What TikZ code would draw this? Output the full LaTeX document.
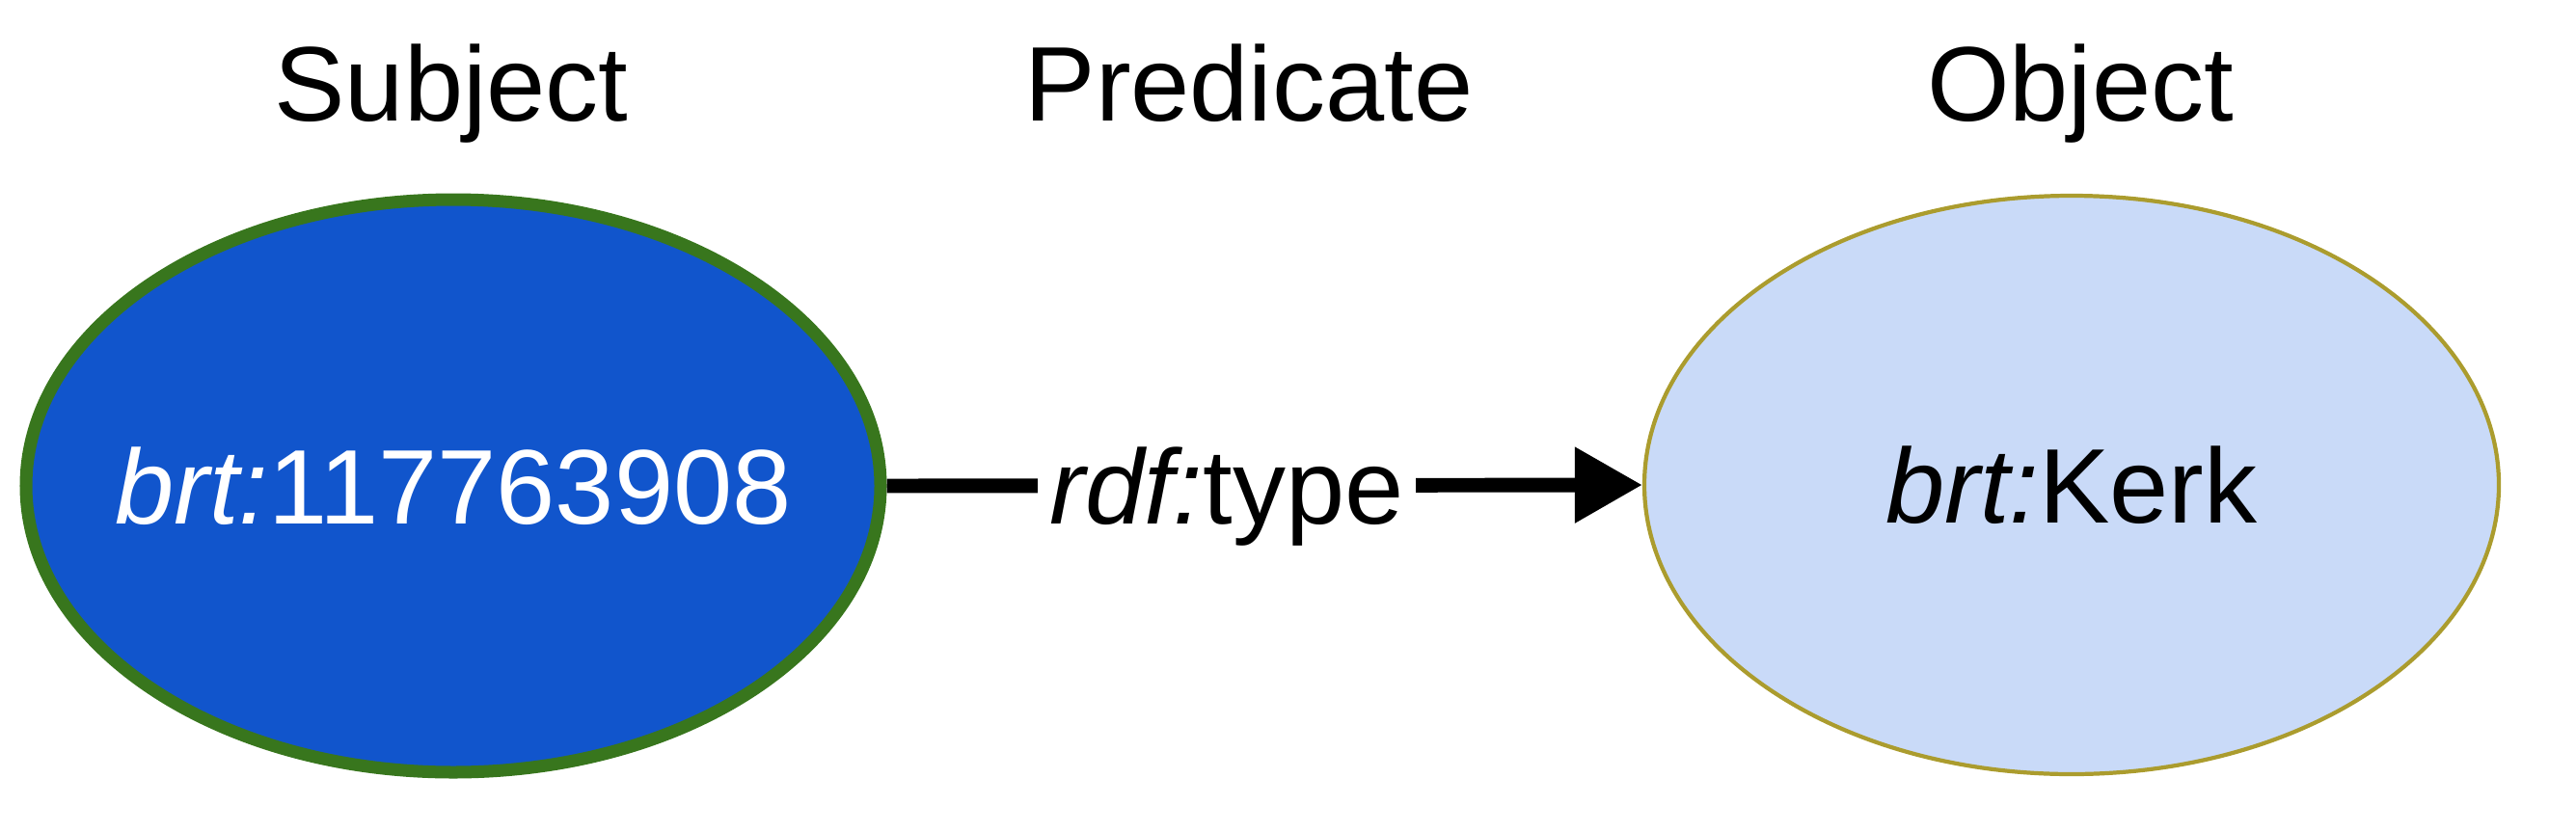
\documentclass[tikz,border=0pt]{standalone}
\usepackage{fontspec}
\setmainfont{Liberation Sans}
\usetikzlibrary{shapes.geometric,arrows.meta}

\definecolor{subjblue}{RGB}{17,85,204}
\definecolor{subjgreen}{RGB}{56,118,29}
\definecolor{objblue}{RGB}{201,218,248}
\definecolor{objolive}{RGB}{171,156,46}

\begin{document}
\begin{tikzpicture}[
	big/.style={font=\fontsize{31.3}{37}\selectfont},
	subj/.style={ellipse, big, draw=subjgreen, line width=3.7pt, fill=subjblue, text=white, inner ysep=0pt, inner xsep=-1.5cm, minimum width=8.86cm, minimum height=5.94cm},
	obj/.style={ellipse, big, draw=objolive, line width=1.2pt, fill=objblue, inner sep=0pt, minimum width=8.86cm, minimum height=6.0cm},
	head/.style={big, anchor=base}]
	\useasboundingbox (0,0) rectangle (26.71,8.62);
	
	%ellipses
	\node[subj] (s) at (4.70,3.58) {\textit{brt:}117763908};
	\node[obj] (o) at (21.48,3.59) {\textit{brt:}Kerk};
	
	%arrow
	\draw[line width=4.25pt, -{Triangle[length=0.7cm,width=0.75cm]}] (s.east)--(o.west) node[pos=0.45, big, fill=white, inner sep=0.13cm, text depth=0pt] (p) {\textit{rdf:}type};
	
	%headings
	\node[head] (sh) at (4.68,7.37) {Subject};
	\node[head] (ph) at (12.95,7.37) {Predicate};
	\node[head] (oh) at (21.57,7.37) {Object};
\end{tikzpicture}
\end{document}
